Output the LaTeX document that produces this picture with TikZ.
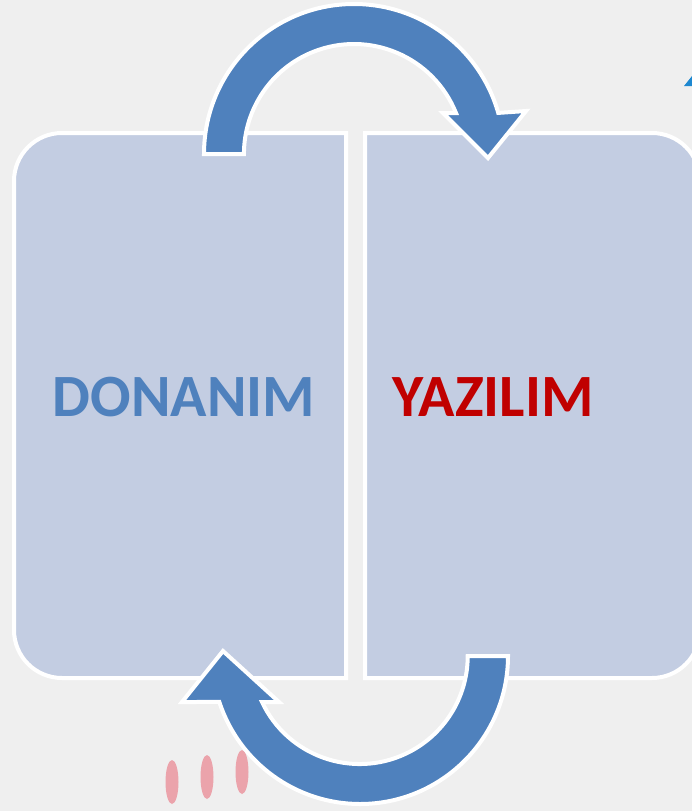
\documentclass[tikz,border=0pt]{standalone}
\usepackage{fontspec}
\setmainfont{Carlito}
\definecolor{bg}{HTML}{EFEFEF}
\definecolor{boxfill}{HTML}{C3CDE2}
\definecolor{arrowblue}{HTML}{4F81BD}
\definecolor{darkred}{HTML}{C00000}
\definecolor{pinkdot}{HTML}{EBA3AB}
\definecolor{tinyblue}{HTML}{1E88D0}
\tikzset{
  panel/.style={draw=white, line width=4, fill=boxfill},
  bigarrow/.style={draw=white, line width=4, fill=arrowblue, line join=miter},
  label/.style={font=\fontsize{60}{72}\selectfont\bfseries, inner sep=0pt}
}
\begin{document}
\begin{tikzpicture}[x=1pt,y=-1pt]
\fill[bg] (0,0) rectangle (692,811);
\useasboundingbox (0,0) rectangle (692,811);
% background dots
\fill[pinkdot] (172,782) ellipse[x radius=6.5, y radius=22];
\fill[pinkdot] (207,777) ellipse[x radius=6.5, y radius=22];
\fill[pinkdot] (242,772) ellipse[x radius=6.5, y radius=22];
\fill[tinyblue] (684,86) -- (692,86) -- (692,76) -- cycle;
% panels
\draw[panel] (346,133) -- (62,133) arc[start angle=270, end angle=180, radius=48]
  -- (14,630) arc[start angle=180, end angle=90, radius=48] -- (346,678) -- cycle;
\draw[panel] (365,133) -- (652,133) arc[start angle=270, end angle=360, radius=48]
  -- (700,630) arc[start angle=0, end angle=90, radius=48] -- (365,678) -- cycle;
\node[label, text=arrowblue] (hw) at (184,397) {DONANIM};
\node[label, text=darkred] (sw) at (493,397) {YAZILIM};
% top arrow
\draw[bigarrow] (204,154) arc[start angle=180, end angle=344.1, radius=150]
  -- (526,111) -- (488,158) -- (443,113) -- (456,113)
  arc[start angle=338.1, end angle=180, radius=110] -- cycle;
% bottom arrow
\draw[bigarrow] (508,656) arc[start angle=0, end angle=161.9, radius=148]
  -- (182,702) -- (223,651) -- (279,702) -- (262,702)
  arc[start angle=154.8, end angle=0, radius=108] -- cycle;
\end{tikzpicture}
\end{document}
